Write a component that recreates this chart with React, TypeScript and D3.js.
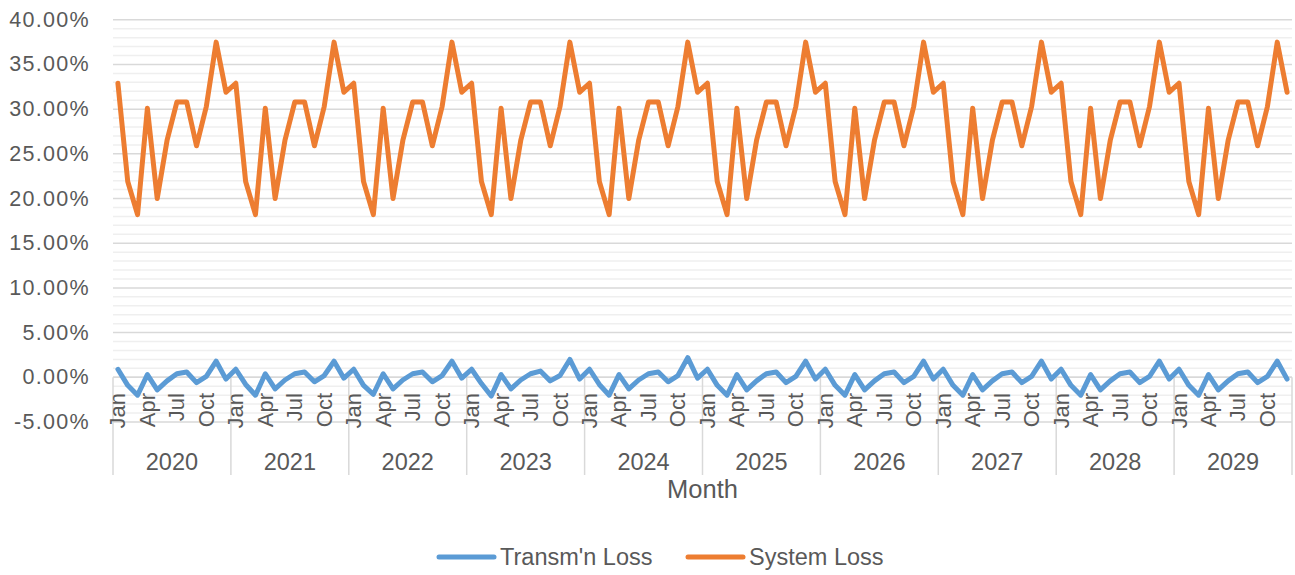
import React from 'react';
import * as d3 from 'd3';

const years = ['2020', '2021', '2022', '2023', '2024', '2025', '2026', '2027', '2028', '2029'];
const months = ['Jan', 'Feb', 'Mar', 'Apr', 'May', 'Jun', 'Jul', 'Aug', 'Sep', 'Oct', 'Nov', 'Dec'];
const shownMonths = ['Jan', 'Apr', 'Jul', 'Oct'];
const yTicks = [-5, 0, 5, 10, 15, 20, 25, 30, 35, 40];

// Transm'n Loss (%), one row per year, Jan..Dec
const transmLoss = [
  [0.9, -0.9, -2.0, 0.3, -1.4, -0.4, 0.4, 0.6, -0.6, 0.1, 1.8, -0.2],
  [0.9, -0.8, -2.0, 0.4, -1.3, -0.3, 0.4, 0.6, -0.5, 0.2, 1.8, -0.1],
  [0.9, -0.9, -1.9, 0.4, -1.3, -0.3, 0.4, 0.6, -0.5, 0.2, 1.8, -0.1],
  [0.9, -0.7, -2.1, 0.3, -1.3, -0.3, 0.4, 0.7, -0.4, 0.2, 2.0, -0.2],
  [0.9, -0.8, -2.0, 0.3, -1.3, -0.3, 0.4, 0.6, -0.5, 0.2, 2.2, -0.1],
  [0.9, -0.9, -2.0, 0.3, -1.4, -0.4, 0.4, 0.6, -0.6, 0.1, 1.8, -0.2],
  [0.9, -0.9, -2.0, 0.3, -1.4, -0.4, 0.4, 0.6, -0.6, 0.1, 1.8, -0.2],
  [0.9, -0.9, -2.0, 0.3, -1.4, -0.4, 0.4, 0.6, -0.6, 0.1, 1.8, -0.2],
  [0.9, -0.9, -2.0, 0.3, -1.4, -0.4, 0.4, 0.6, -0.6, 0.1, 1.8, -0.2],
  [0.9, -0.9, -2.0, 0.3, -1.4, -0.4, 0.4, 0.6, -0.6, 0.1, 1.8, -0.2],
];

// System Loss (%), one row per year, Jan..Dec
const systemLoss = [
  [32.9, 21.9, 18.2, 30.1, 20.0, 26.5, 30.8, 30.8, 25.9, 30.3, 37.5, 31.9],
  [32.9, 21.9, 18.2, 30.1, 20.0, 26.5, 30.8, 30.8, 25.9, 30.3, 37.5, 31.9],
  [32.9, 21.9, 18.2, 30.1, 20.0, 26.5, 30.8, 30.8, 25.9, 30.3, 37.5, 31.9],
  [32.9, 21.9, 18.2, 30.1, 20.0, 26.5, 30.8, 30.8, 25.9, 30.3, 37.5, 31.9],
  [32.9, 21.9, 18.2, 30.1, 20.0, 26.5, 30.8, 30.8, 25.9, 30.3, 37.5, 31.9],
  [32.9, 21.9, 18.2, 30.1, 20.0, 26.5, 30.8, 30.8, 25.9, 30.3, 37.5, 31.9],
  [32.9, 21.9, 18.2, 30.1, 20.0, 26.5, 30.8, 30.8, 25.9, 30.3, 37.5, 31.9],
  [32.9, 21.9, 18.2, 30.1, 20.0, 26.5, 30.8, 30.8, 25.9, 30.3, 37.5, 31.9],
  [32.9, 21.9, 18.2, 30.1, 20.0, 26.5, 30.8, 30.8, 25.9, 30.3, 37.5, 31.9],
  [32.9, 21.9, 18.2, 30.1, 20.0, 26.5, 30.8, 30.8, 25.9, 30.3, 37.5, 31.9],
];

const seriesNames = ["Transm'n Loss", 'System Loss'];
const seriesColors = ['#5B9BD5', '#ED7D31'];

const W = 1295;
const H = 575;
const LEFT = 113;
const RIGHT = 1292;
const FONT = '"Liberation Sans", Arial, sans-serif';
const TEXT = '#595959';

export default function App() {
  const cats = years.flatMap((y) => months.map((m) => `${y}-${m}`));
  const x = d3.scaleBand<string>().domain(cats).range([LEFT, RIGHT]).padding(0);
  const bw = x.bandwidth();
  const cx = (i: number) => (x(cats[i]) as number) + bw / 2;
  const y = d3.scaleLinear().domain([-5, 40]).range([422, 19.8]);
  const yearScale = d3.scaleBand<string>().domain(years).range([LEFT, RIGHT]).padding(0);

  const minorTicks = d3.range(-5, 41, 1).filter((v) => v % 5 !== 0);
  const line = d3
    .line<number>()
    .x((_, i) => cx(i))
    .y((d) => y(d));

  const series = [transmLoss.flat(), systemLoss.flat()];
  const axisY = y(0);

  return (
    <svg width={W} height={H} style={{ position: 'absolute', left: 0, top: 0, background: '#fff' }} fontFamily={FONT}>
      {minorTicks.map((v) => (
        <line key={'mi' + v} x1={LEFT} x2={RIGHT} y1={y(v)} y2={y(v)} stroke="#efefef" strokeWidth={1.5} />
      ))}
      {yTicks.map((v) => (
        <line key={'ma' + v} x1={LEFT} x2={RIGHT} y1={y(v)} y2={y(v)} stroke="#d9d9d9" strokeWidth={1.5} />
      ))}
      {yTicks.map((v) => (
        <text
          key={'yl' + v}
          x={90}
          y={y(v)}
          textAnchor="end"
          dominantBaseline="central"
          fontSize={21.5}
          letterSpacing={1.3}
          fill={TEXT}
        >
          {v.toFixed(2) + '%'}
        </text>
      ))}
      {/* category axis */}
      <line x1={LEFT} x2={RIGHT} y1={axisY} y2={axisY} stroke="#d9d9d9" strokeWidth={1.5} />
      {d3.range(years.length + 1).map((k) => {
        const xx = k < years.length ? (yearScale(years[k]) as number) : RIGHT;
        return <line key={'yd' + k} x1={xx} x2={xx} y1={axisY} y2={475} stroke="#d9d9d9" strokeWidth={1.5} />;
      })}
      {cats.map((c, i) => {
        const m = months[i % 12];
        if (!shownMonths.includes(m)) return null;
        return (
          <text
            key={'ml' + i}
            transform={`translate(${cx(i)},${393}) rotate(-90)`}
            textAnchor="end"
            dominantBaseline="central"
            fontSize={22}
            fill={TEXT}
          >
            {m}
          </text>
        );
      })}
      {years.map((yr) => (
        <text
          key={'yr' + yr}
          x={(yearScale(yr) as number) + yearScale.bandwidth() / 2}
          y={470}
          textAnchor="middle"
          fontSize={23.5}
          fill={TEXT}
        >
          {yr}
        </text>
      ))}
      <text x={(LEFT + RIGHT) / 2} y={498} textAnchor="middle" fontSize={25.5} fill={TEXT}>
        Month
      </text>
      {series.map((s, k) => (
        <path
          key={'s' + k}
          d={line(s) as string}
          fill="none"
          stroke={seriesColors[k]}
          strokeWidth={5}
          strokeLinejoin="round"
          strokeLinecap="round"
        />
      ))}
      {/* legend */}
      {seriesNames.map((n, k) => {
        const lx = k === 0 ? 439 : 688;
        return (
          <g key={'lg' + k}>
            <line x1={lx} x2={lx + 55} y1={557} y2={557} stroke={seriesColors[k]} strokeWidth={5} strokeLinecap="round" />
            <text x={lx + 61} y={557} dominantBaseline="central" fontSize={23.5} fill={TEXT}>
              {n}
            </text>
          </g>
        );
      })}
    </svg>
  );
}
